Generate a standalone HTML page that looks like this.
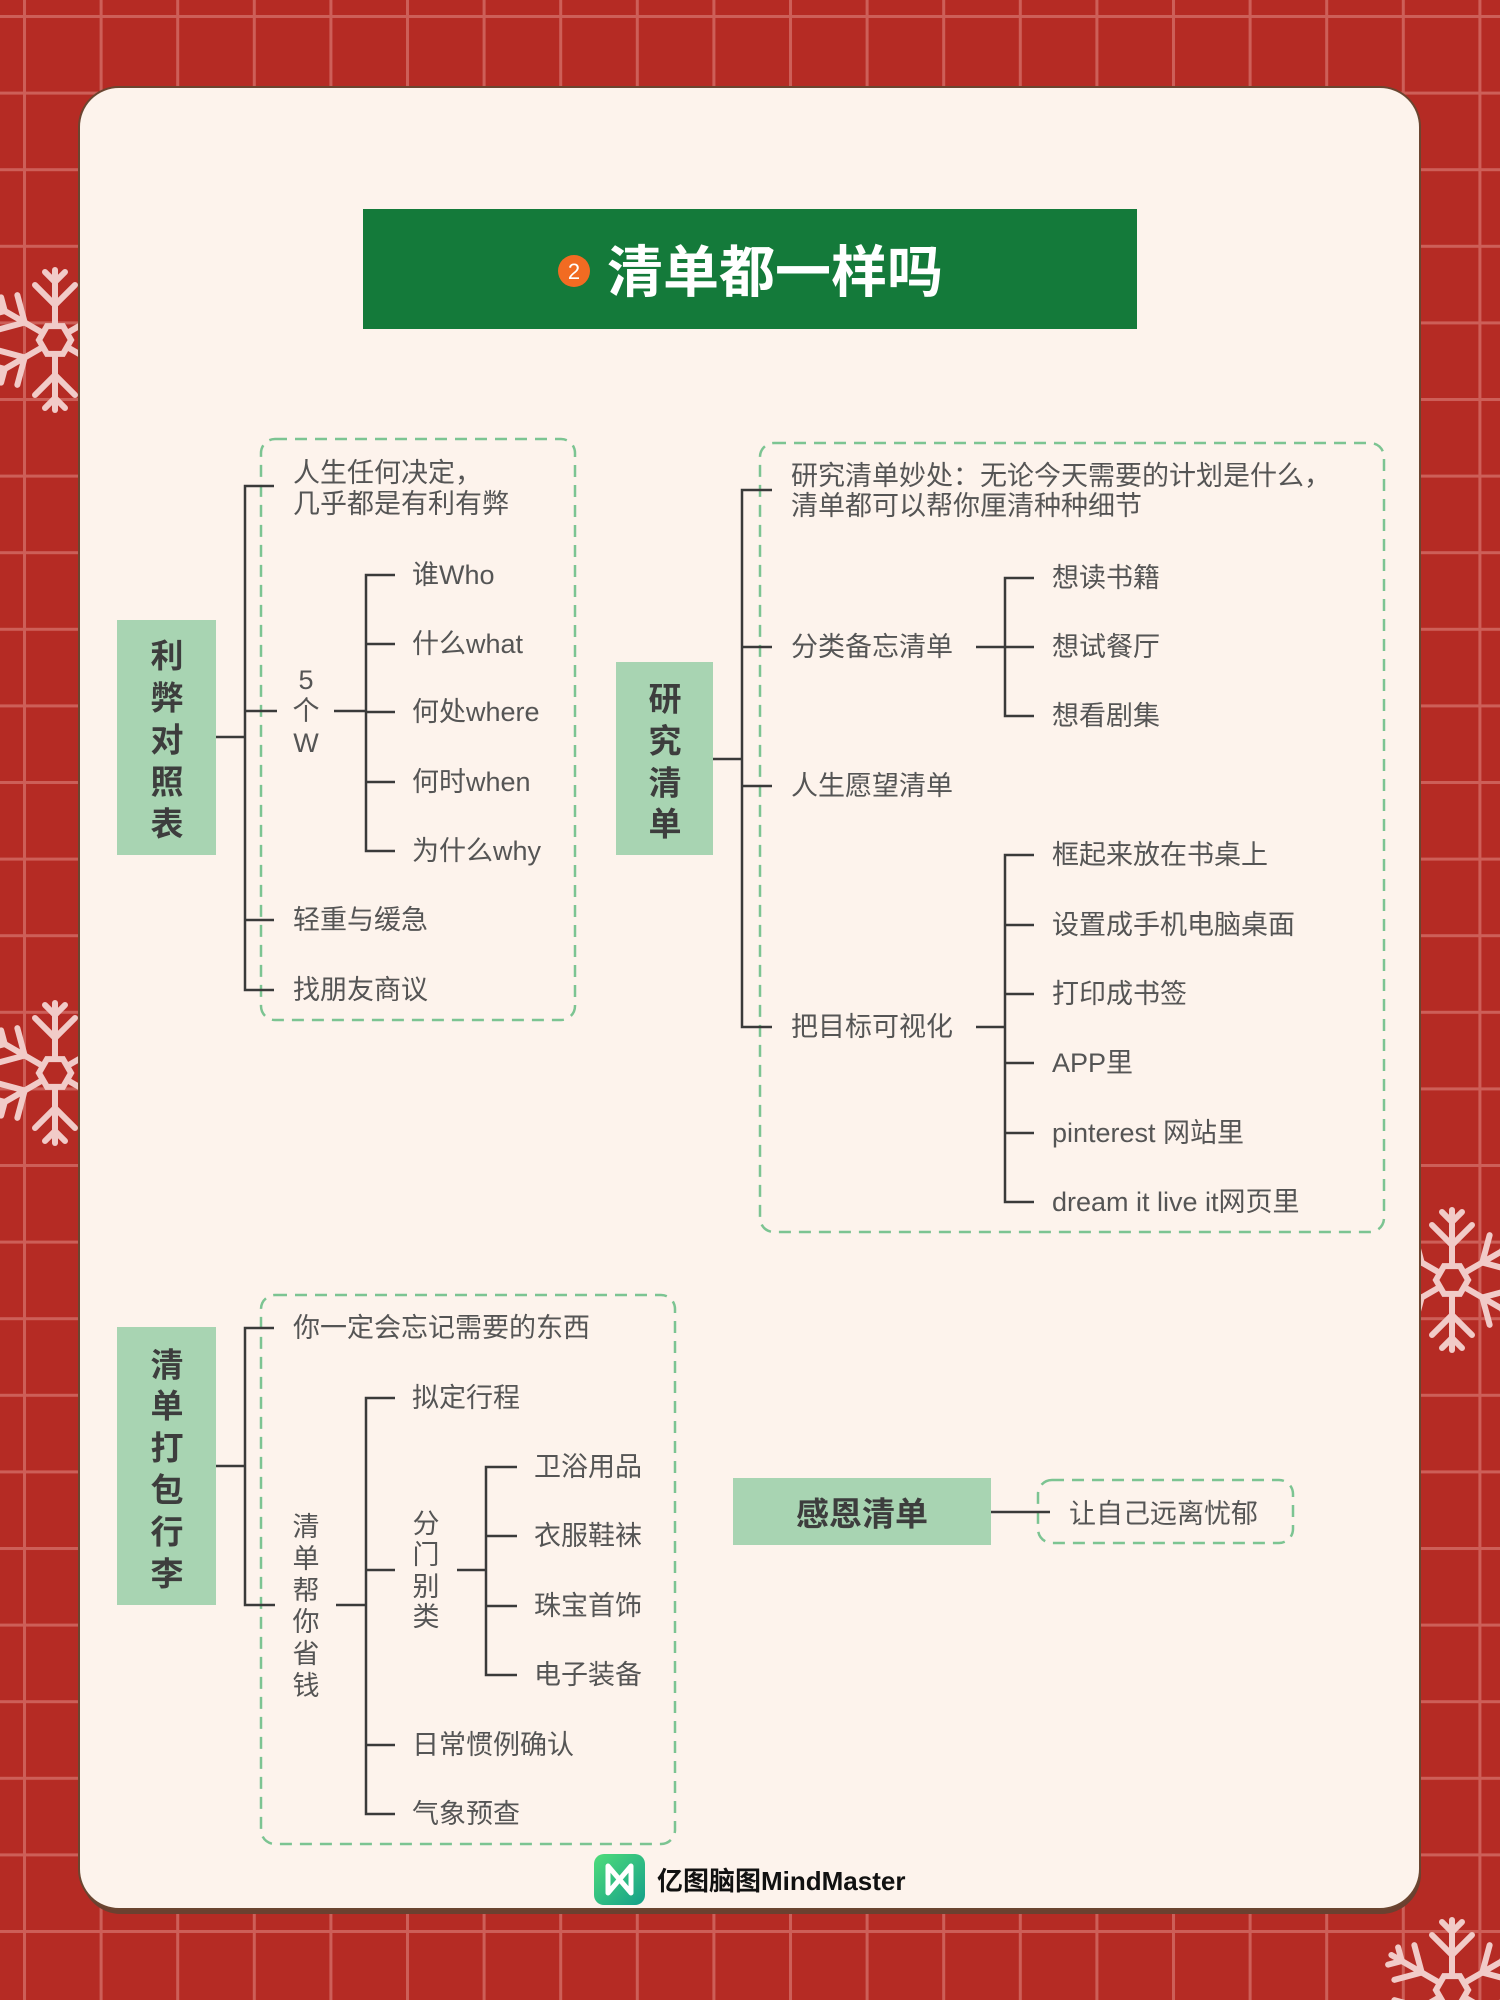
<!DOCTYPE html>
<html><head><meta charset="utf-8"><style>
html,body{margin:0;padding:0;}
body{width:1500px;height:2000px;overflow:hidden;}
svg{display:block;}
text{font-family:"Liberation Sans","Noto Sans CJK SC",sans-serif;}
</style></head><body>
<svg width="1500" height="2000" viewBox="0 0 1500 2000" xmlns="http://www.w3.org/2000/svg">
<defs>
<pattern id="grid" x="23" y="15" width="76.6" height="76.6" patternUnits="userSpaceOnUse">
<rect width="76.6" height="76.6" fill="#b52b24"/>
<rect x="0" y="0" width="3" height="76.6" fill="#cd5f58"/>
<rect x="0" y="0" width="76.6" height="3" fill="#cd5f58"/>
</pattern>
<g id="arm" stroke="#f1cbc8" stroke-width="6" stroke-linecap="round" fill="none">
<line x1="0" y1="-15" x2="0" y2="-70"/>
<polyline points="-20,-55 0,-35 20,-55"/>
<polyline points="-10,-68 0,-58 10,-68"/>
</g>
<g id="flake">
<use href="#arm"/>
<use href="#arm" transform="rotate(60)"/>
<use href="#arm" transform="rotate(120)"/>
<use href="#arm" transform="rotate(180)"/>
<use href="#arm" transform="rotate(240)"/>
<use href="#arm" transform="rotate(300)"/>
<polygon points="0,-16 13.9,-8 13.9,8 0,16 -13.9,8 -13.9,-8" transform="rotate(30)" fill="none" stroke="#f1cbc8" stroke-width="6"/>
</g>
<linearGradient id="lg" x1="0" y1="0" x2="1" y2="1"><stop offset="0" stop-color="#4fdc7a"/><stop offset="1" stop-color="#14a08a"/></linearGradient>
</defs>
<rect width="1500" height="2000" fill="url(#grid)"/>
<use href="#flake" x="55" y="340"/>
<use href="#flake" x="55" y="1073"/>
<use href="#flake" x="1452" y="1280"/>
<use href="#flake" x="1452" y="1990"/>
<rect x="81" y="92" width="1340" height="1822" rx="40" fill="#6b4030"/>
<rect x="79" y="87" width="1341" height="1822" rx="40" fill="#fdf3ec" stroke="#6b4530" stroke-width="2"/>
<rect x="363" y="209" width="774" height="120" fill="#147a3a"/>
<circle cx="574" cy="271" r="16" fill="#f26b22"/>
<text x="574" y="279" font-size="22" fill="#fff" text-anchor="middle">2</text>
<text x="607" y="292" font-size="56" font-weight="bold" fill="#fff">清单都一样吗</text>

<g fill="none" stroke="#7cc492" stroke-width="2.5" stroke-dasharray="12,8">
<rect x="261" y="439" width="314" height="581" rx="14"/>
<rect x="760" y="443" width="624" height="789" rx="14"/>
<rect x="261" y="1295" width="414" height="549" rx="14"/>
<rect x="1038" y="1480" width="255" height="63" rx="14"/>
</g>

<g fill="#a8d4b2">
<rect x="117" y="620" width="99" height="235"/>
<rect x="616" y="662" width="97" height="193"/>
<rect x="117" y="1327" width="99" height="278"/>
<rect x="733" y="1478" width="258" height="67"/>
</g>

<g stroke="#3a3a3a" stroke-width="2.5" fill="none">
<line x1="216" y1="737" x2="245" y2="737"/>
<polyline points="274,486 245,486 245,990 274,990"/>
<line x1="245" y1="711" x2="277" y2="711"/>
<line x1="245" y1="920" x2="274" y2="920"/>
<line x1="334" y1="711" x2="366" y2="711"/>
<polyline points="395,575 366,575 366,851 395,851"/>
<line x1="366" y1="644" x2="395" y2="644"/>
<line x1="366" y1="712" x2="395" y2="712"/>
<line x1="366" y1="782" x2="395" y2="782"/>
<line x1="713" y1="759" x2="742" y2="759"/>
<polyline points="772,490 742,490 742,1027 772,1027"/>
<line x1="742" y1="647" x2="772" y2="647"/>
<line x1="742" y1="786" x2="772" y2="786"/>
<line x1="976" y1="647" x2="1005" y2="647"/>
<polyline points="1034,578 1005,578 1005,716 1034,716"/>
<line x1="1005" y1="647" x2="1034" y2="647"/>
<line x1="976" y1="1027" x2="1005" y2="1027"/>
<polyline points="1034,855 1005,855 1005,1202 1034,1202"/>
<line x1="1005" y1="925" x2="1034" y2="925"/>
<line x1="1005" y1="994" x2="1034" y2="994"/>
<line x1="1005" y1="1063" x2="1034" y2="1063"/>
<line x1="1005" y1="1133" x2="1034" y2="1133"/>
<line x1="216" y1="1466" x2="245" y2="1466"/>
<polyline points="274,1328 245,1328 245,1605 275,1605"/>
<line x1="336" y1="1605" x2="366" y2="1605"/>
<polyline points="395,1398 366,1398 366,1814 395,1814"/>
<line x1="366" y1="1570" x2="395" y2="1570"/>
<line x1="366" y1="1745" x2="395" y2="1745"/>
<line x1="457" y1="1570" x2="486" y2="1570"/>
<polyline points="517,1467 486,1467 486,1675 517,1675"/>
<line x1="486" y1="1536" x2="517" y2="1536"/>
<line x1="486" y1="1606" x2="517" y2="1606"/>
<line x1="991" y1="1512" x2="1050" y2="1512"/>
</g>

<g font-size="33" font-weight="bold" fill="#3d3d3d" text-anchor="middle" dominant-baseline="central">
<text x="167" y="656">利</text><text x="167" y="698">弊</text><text x="167" y="740">对</text><text x="167" y="782">照</text><text x="167" y="824">表</text>
<text x="665" y="699">研</text><text x="665" y="741">究</text><text x="665" y="783">清</text><text x="665" y="824">单</text>
<text x="167" y="1365">清</text><text x="167" y="1406">单</text><text x="167" y="1448">打</text><text x="167" y="1490">包</text><text x="167" y="1532">行</text><text x="167" y="1574">李</text>
<text x="862" y="1514">感恩清单</text>
</g>

<g font-size="27" fill="#555" dominant-baseline="central">
<text x="293" y="473">人生任何决定，</text>
<text x="293" y="504">几乎都是有利有弊</text>
<text x="306" y="680" text-anchor="middle">5</text>
<text x="306" y="711" text-anchor="middle">个</text>
<text x="306" y="743" text-anchor="middle">W</text>
<text x="412" y="575">谁Who</text>
<text x="412" y="644">什么what</text>
<text x="412" y="712">何处where</text>
<text x="412" y="782">何时when</text>
<text x="412" y="851">为什么why</text>
<text x="293" y="920">轻重与缓急</text>
<text x="293" y="990">找朋友商议</text>
<text x="791" y="476">研究清单妙处：无论今天需要的计划是什么，</text>
<text x="791" y="506">清单都可以帮你厘清种种细节</text>
<text x="791" y="647">分类备忘清单</text>
<text x="1052" y="578">想读书籍</text>
<text x="1052" y="647">想试餐厅</text>
<text x="1052" y="716">想看剧集</text>
<text x="791" y="786">人生愿望清单</text>
<text x="791" y="1027">把目标可视化</text>
<text x="1052" y="855">框起来放在书桌上</text>
<text x="1052" y="925">设置成手机电脑桌面</text>
<text x="1052" y="994">打印成书签</text>
<text x="1052" y="1063">APP里</text>
<text x="1052" y="1133">pinterest 网站里</text>
<text x="1052" y="1202">dream it live it网页里</text>
<text x="293" y="1328">你一定会忘记需要的东西</text>
<g text-anchor="middle">
<text x="306" y="1527">清</text><text x="306" y="1559">单</text><text x="306" y="1591">帮</text><text x="306" y="1622">你</text><text x="306" y="1654">省</text><text x="306" y="1686">钱</text>
<text x="426" y="1524">分</text><text x="426" y="1555">门</text><text x="426" y="1587">别</text><text x="426" y="1617">类</text>
</g>
<text x="412" y="1398">拟定行程</text>
<text x="534" y="1467">卫浴用品</text>
<text x="534" y="1536">衣服鞋袜</text>
<text x="534" y="1606">珠宝首饰</text>
<text x="534" y="1675">电子装备</text>
<text x="412" y="1745">日常惯例确认</text>
<text x="412" y="1814">气象预查</text>
<text x="1069" y="1514">让自己远离忧郁</text>
</g>

<rect x="594" y="1854" width="51" height="51" rx="10" fill="url(#lg)"/>
<path d="M608,1866 L608,1893 L631,1866 L631,1893 Z" fill="none" stroke="#fff" stroke-width="5" stroke-linejoin="round"/>
<text x="657" y="1890" font-size="26" font-weight="bold" fill="#111">亿图脑图MindMaster</text>
</svg>
</body></html>
